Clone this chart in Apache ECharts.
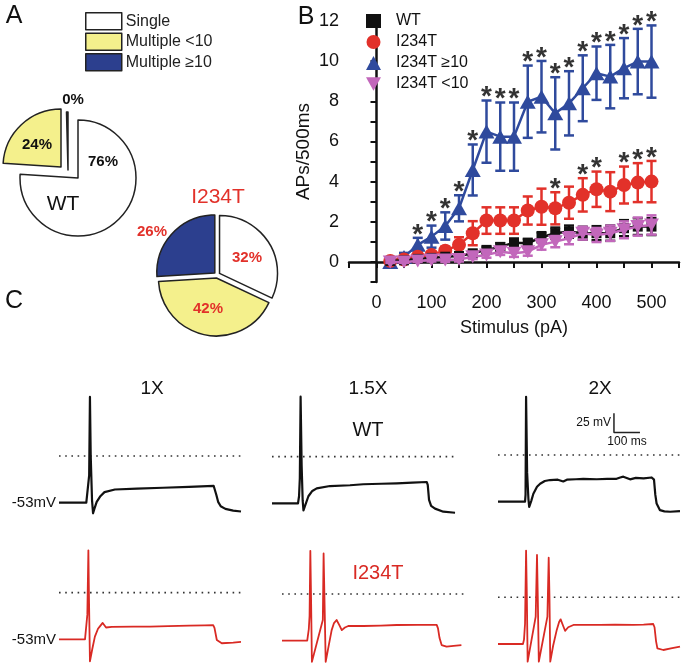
<!DOCTYPE html>
<html><head><meta charset="utf-8">
<script src="https://cdn.jsdelivr.net/npm/echarts@6/dist/echarts.min.js"></script>
<style>html,body{margin:0;padding:0;background:#fff}#c{width:685px;height:667px}</style>
</head><body><div id="c"></div>
<script>
// ---------- Panel A data ----------
const pieCategories = ['Single', 'Multiple <10', 'Multiple \u226510'];
const wtPie = [76, 24, 0];
const mutPie = [32, 42, 26];

// ---------- Panel B data ----------
const stimulus = [25,50,75,100,125,150,175,200,225,250,275,300,325,350,375,400,425,450,475,500];
const wtAPs     = [0.05,0.08,0.15,0.2,0.26,0.3,0.43,0.6,0.75,0.96,0.93,1.23,1.43,1.51,1.43,1.43,1.43,1.68,1.76,1.76];
const wtErr     = [0.05,0.05,0.06,0.08,0.1,0.1,0.12,0.15,0.18,0.2,0.22,0.25,0.28,0.3,0.32,0.35,0.38,0.4,0.42,0.42];
const mutAPs    = [0.05,0.12,0.26,0.35,0.56,0.85,1.43,2.06,2.06,2.06,2.56,2.75,2.67,2.95,3.34,3.62,3.5,3.83,3.95,4.0];
const mutErr    = [0.05,0.08,0.1,0.15,0.2,0.38,0.6,0.66,0.66,0.66,0.7,0.9,0.8,0.8,0.83,0.88,0.97,0.92,0.97,1.03];
const hiAPs     = [0,0.25,0.85,1.26,1.79,2.67,4.58,6.49,6.24,6.24,7.98,8.23,7.4,7.9,8.65,9.4,9.23,9.65,9.98,9.98];
const hiErr     = [0.05,0.2,0.35,0.55,0.68,0.65,1.27,1.55,1.7,1.7,1.8,1.78,1.8,1.6,1.64,1.33,1.58,1.5,1.63,1.8];
const loAPs     = [0,0,0.05,0.1,0.1,0.12,0.26,0.35,0.51,0.43,0.51,0.85,1.01,1.18,1.43,1.34,1.43,1.6,1.76,1.84];
const loErr     = [0.05,0.05,0.06,0.08,0.1,0.1,0.12,0.14,0.16,0.18,0.2,0.24,0.28,0.3,0.32,0.35,0.38,0.42,0.45,0.48];
const hiSig  = [75,100,125,150,175,200,225,250,275,300,325,350,375,400,425,450,475,500];
const mutSig = [325,375,400,450,475,500];
const xTickLabels = [0,100,200,300,400,500];
const yTickLabels = [0,2,4,6,8,10,12];

// ---------- Panel C data (time ms, membrane potential mV) ----------
const wt1x = [[0,-53],[105,-53],[108,-52],[116,-22],[119,67],[122,0],[127,-50],[131,-65],[136,-60],[145,-52],[158,-46],[175,-41],[215,-38],[300,-37],[400,-36],[500,-35],[595,-34],[600,-35],[605,-44],[612,-52],[622,-57],[640,-60],[670,-62],[700,-63]];
const wt15x = [[0,-53],[100,-53],[104,-45],[107,-25],[110,68],[114,-10],[118,-50],[121,-61],[128,-55],[140,-45],[155,-39],[172,-36],[223,-33.4],[300,-32.5],[351,-31.4],[420,-30.8],[480,-30.3],[540,-29.6],[595,-28.8],[599,-32],[604,-49],[612,-56],[627,-59],[659,-62.5],[704,-63.7]];
const wt2x = [[0,-53],[104,-53],[106,-45],[108,66],[112,-20],[117,-50],[120,-59],[128,-52],[136,-44],[150,-36],[162,-32.6],[180,-29.5],[200,-28.4],[230,-28],[251,-30],[265,-28],[300,-27.5],[328,-27],[380,-27.5],[420,-27],[456,-27],[470,-25.5],[482,-24.6],[495,-26],[508,-27.6],[530,-26],[560,-26.5],[591,-25.5],[600,-28],[605,-45],[610,-55],[623,-62.6],[640,-64],[662,-64.4],[700,-63.7]];
const mut1x = [[0,-53],[100,-53],[109,-25],[113,48],[115,0],[119,-78],[128,-64],[138,-50],[150,-41],[158,-38],[168,-34.4],[181,-39.6],[203,-38.9],[286,-38.7],[350,-38.5],[420,-38],[500,-37.5],[560,-37.2],[593,-37],[598,-40],[607,-53.8],[626,-57.5],[670,-56.8],[700,-56]];
const mut15x = [[0,-53],[97,-53],[103,-40],[106,-25],[109,49],[112,-10],[115,-77],[157,-29.5],[160,46],[163,0],[168,-77],[180,-58],[191,-41],[200,-33],[210,-29.5],[220,-35],[230,-41],[242,-38],[255,-36.3],[313,-36.3],[380,-35.8],[441,-35.2],[520,-35],[595,-35],[600,-39],[606,-50],[614,-57.9],[633,-59.8],[660,-58.8],[690,-57.9]];
const mut2x = [[0,-53],[96,-53],[100,-48],[104,-30],[108,53],[111,0],[114,-73],[145,-22],[150,48],[153,0],[157,-73],[190,-22],[195,45],[198,0],[201,-73],[212,-55],[226,-37],[235,-28],[241,-25],[250,-32],[258,-38],[270,-34],[290,-31.4],[392,-31.4],[450,-31],[520,-31.4],[560,-31],[597,-30.3],[602,-34],[608,-50],[613,-57.9],[636,-59.8],[665,-58],[700,-56]];
const zeroLevel = [[0,0],[700,0]];
const scaleBar = [[446,47.5],[446,25.5],[546,25.5]];

// ---------- styling ----------
const FONT = 'Liberation Sans, Arial, sans-serif';
const pieColors = ['#ffffff', '#f4f08c', '#2c3f8e'];
const RED = '#e2312a', BLUE = '#2f4a9d', PURPLE = '#c267bb', BLACK = '#111111';

function sliceSeries(values, idx, center, radius, extra) {
  return Object.assign({
    type: 'pie', radius: radius, center: center, startAngle: 90, clockwise: true,
    silent: true, animation: false, avoidLabelOverlap: false,
    label: {show: false}, labelLine: {show: false},
    data: values.map((v, i) => ({
      name: pieCategories[i], value: v,
      itemStyle: i === idx
        ? {color: pieColors[i], borderColor: '#222', borderWidth: 1.5}
        : {color: 'rgba(0,0,0,0)', borderWidth: 0}
    }))
  }, extra || {});
}
function midDir(values, idx) {
  const sum = values.reduce((a, b) => a + b, 0);
  let acc = 0; for (let i = 0; i < idx; i++) acc += values[i];
  const a = (acc + values[idx] / 2) / sum * 2 * Math.PI;
  return [Math.sin(a), -Math.cos(a)];
}
const wtC = [78, 178], mutC = [217, 275], R = 58;
const wtOffsets = [[0, 0], [-17, -11], [-10, -8]];
const pieSeries = [];
wtPie.forEach((v, i) => pieSeries.push(sliceSeries(wtPie, i,
  [wtC[0] + wtOffsets[i][0], wtC[1] + wtOffsets[i][1]], R, v === 0 ? {minAngle: 1.5} : {})));
mutPie.forEach((v, i) => {
  const d = midDir(mutPie, i);
  pieSeries.push(sliceSeries(mutPie, i, [mutC[0] + 3 * d[0], mutC[1] + 3 * d[1]], R));
});

function errSeries(vals, errs, color, z) {
  return {
    type: 'custom', name: 'err', xAxisIndex: 0, yAxisIndex: 0, z: z, silent: true, animation: false,
    data: stimulus.map((x, i) => [x, vals[i] - errs[i], vals[i] + errs[i]]),
    renderItem: (params, api) => {
      const lo = api.coord([api.value(0), api.value(1)]);
      const hi = api.coord([api.value(0), api.value(2)]);
      const w = 5, style = {stroke: color, lineWidth: 2.5};
      return {type: 'group', children: [
        {type: 'line', shape: {x1: lo[0], y1: lo[1], x2: hi[0], y2: hi[1]}, style: style},
        {type: 'line', shape: {x1: hi[0] - w, y1: hi[1], x2: hi[0] + w, y2: hi[1]}, style: style},
        {type: 'line', shape: {x1: lo[0] - w, y1: lo[1], x2: lo[0] + w, y2: lo[1]}, style: style}
      ]};
    }
  };
}
function lineSeries(name, vals, color, symbol, size, z) {
  return {
    type: 'line', name: name, xAxisIndex: 0, yAxisIndex: 0, z: z, animation: false,
    data: stimulus.map((x, i) => [x, vals[i]]),
    symbol: symbol, symbolSize: size, showSymbol: true,
    itemStyle: {color: color}, lineStyle: {color: color, width: 2.5}
  };
}
function starSeries(sig, vals, errs) {
  return {
    type: 'scatter', xAxisIndex: 0, yAxisIndex: 0, z: 20, silent: true, animation: false,
    symbolSize: 1, itemStyle: {color: 'rgba(0,0,0,0)'},
    data: sig.map(x => { const i = stimulus.indexOf(x); return [x, vals[i] + errs[i]]; }),
    label: {show: true, formatter: '*', position: 'inside', offset: [0, -3],
            fontSize: 28, fontWeight: 'bold', color: '#000', fontFamily: FONT}
  };
}
const INV_TRI = 'path://M0,0 L10,0 L5,9 Z';

// trace grids
const traceLayout = [
  {left: 59, top: 385.5}, {left: 272, top: 386.1}, {left: 498, top: 384.5},
  {left: 59, top: 522.1}, {left: 282, top: 523.5}, {left: 498, top: 526.8}
];
const traces = [wt1x, wt15x, wt2x, mut1x, mut15x, mut2x];
const grids = [{left: 349, top: 21, width: 330, height: 261, outerBoundsMode: 'none'}];
const xAxes = [{
  gridIndex: 0, type: 'value', min: -50, max: 550, interval: 50,
  axisLine: {lineStyle: {color: BLACK, width: 2.5}},
  axisTick: {length: 6, lineStyle: {color: BLACK, width: 2}},
  axisLabel: {customValues: xTickLabels, fontSize: 18, color: BLACK, margin: 12, fontFamily: FONT},
  splitLine: {show: false},
  name: 'Stimulus (pA)', nameLocation: 'middle', nameGap: 37,
  nameTextStyle: {fontSize: 18, color: BLACK, fontFamily: FONT}
}];
const yAxes = [{
  gridIndex: 0, type: 'value', min: -1, max: 12, interval: 1,
  axisLine: {show: true, lineStyle: {color: BLACK, width: 2.5}},
  axisTick: {show: true, length: 6, lineStyle: {color: BLACK, width: 2}},
  axisLabel: {customValues: yTickLabels, fontSize: 18, color: BLACK, margin: 10, fontFamily: FONT},
  splitLine: {show: false},
  name: 'APs/500ms', nameLocation: 'middle', nameGap: 36, nameRotate: 90,
  nameTextStyle: {fontSize: 19, color: BLACK, fontFamily: FONT}
}];
const traceSeries = [];
traceLayout.forEach((g, k) => {
  grids.push({left: g.left, top: g.top, width: 182, height: 141, outerBoundsMode: 'none'});
  xAxes.push({gridIndex: k + 1, type: 'value', min: 0, max: 700, show: false});
  yAxes.push({gridIndex: k + 1, type: 'value', min: -80, max: 80, show: false});
  traceSeries.push({
    type: 'line', xAxisIndex: k + 1, yAxisIndex: k + 1, data: zeroLevel, showSymbol: false,
    silent: true, animation: false, clip: false,
    lineStyle: {color: '#333', width: 1.6, type: [1.6, 4.6]}
  });
  traceSeries.push({
    type: 'line', xAxisIndex: k + 1, yAxisIndex: k + 1, data: traces[k], showSymbol: false,
    silent: true, animation: false, clip: false,
    lineStyle: {color: k < 3 ? BLACK : '#d92a24', width: k < 3 ? 2.2 : 1.8, join: 'round'}
  });
});
traceSeries.push({
  type: 'line', xAxisIndex: 3, yAxisIndex: 3, data: scaleBar, showSymbol: false,
  silent: true, animation: false, clip: false, lineStyle: {color: '#222', width: 1.5}
});

function txt(text, x, y, size, opts) {
  return {type: 'text', z: 100, style: Object.assign({
    text: text, x: x, y: y, fontSize: size, fontFamily: FONT, fill: BLACK,
    align: 'center', verticalAlign: 'middle'}, opts || {})};
}
const graphics = [
  txt('A', 14, 16, 25), txt('B', 306, 17, 25), txt('C', 14, 301, 25),
  txt(wtPie[2] + '%', 73, 100, 15, {fontWeight: 'bold'}),
  txt(wtPie[1] + '%', 37, 145, 15, {fontWeight: 'bold'}),
  txt(wtPie[0] + '%', 103, 162, 15, {fontWeight: 'bold'}),
  txt('WT', 63, 204, 21),
  txt('I234T', 218, 197, 21, {fill: RED}),
  txt(mutPie[2] + '%', 152, 232, 15, {fontWeight: 'bold', fill: RED}),
  txt(mutPie[0] + '%', 247, 258, 15, {fontWeight: 'bold', fill: RED}),
  txt(mutPie[1] + '%', 208, 309, 15, {fontWeight: 'bold', fill: RED}),
  txt('1X', 152, 389, 19), txt('1.5X', 368, 389, 19), txt('2X', 600, 389, 19),
  txt('WT', 368, 430, 20), txt('I234T', 378, 573, 20, {fill: '#d92a24'}),
  txt('-53mV', 56, 503, 15, {align: 'right'}), txt('-53mV', 56, 640, 15, {align: 'right'}),
  txt('25 mV', 611, 423, 12, {align: 'right'}), txt('100 ms', 627, 442, 12)
];

const option = {
  backgroundColor: '#fff',
  animation: false,
  textStyle: {fontFamily: FONT},
  grid: grids, xAxis: xAxes, yAxis: yAxes,
  legend: [
    {
      left: 80, top: 7, orient: 'vertical', itemWidth: 36, itemHeight: 17, itemGap: 2,
      selectedMode: false,
      textStyle: {fontSize: 16, color: '#222', fontFamily: FONT, padding: [0, 0, 0, -1]},
      data: pieCategories.map((n, i) => ({name: n, icon: 'rect',
        itemStyle: {color: pieColors[i], borderColor: '#222', borderWidth: 1.5}}))
    },
    {
      left: 361, top: 8, orient: 'vertical', itemWidth: 15, itemHeight: 14, itemGap: 5,
      selectedMode: false,
      textStyle: {fontSize: 16, color: BLACK, fontFamily: FONT, padding: [0, 0, 0, 10]},
      data: [
        {name: 'WT', icon: 'rect'}, {name: 'I234T', icon: 'circle'},
        {name: 'I234T \u226510', icon: 'triangle'}, {name: 'I234T <10', icon: INV_TRI}
      ]
    }
  ],
  graphic: {elements: graphics},
  series: [].concat(
    pieSeries,
    [
      errSeries(hiAPs, hiErr, BLUE, 2),
      lineSeries('I234T \u226510', hiAPs, BLUE, 'triangle', [16, 14], 3),
      errSeries(mutAPs, mutErr, RED, 4),
      lineSeries('I234T', mutAPs, RED, 'circle', 14, 5),
      errSeries(wtAPs, wtErr, BLACK, 6),
      lineSeries('WT', wtAPs, BLACK, 'rect', 10, 7),
      errSeries(loAPs, loErr, PURPLE, 8),
      lineSeries('I234T <10', loAPs, PURPLE, INV_TRI, [15, 13], 9),
      starSeries(hiSig, hiAPs, hiErr),
      starSeries(mutSig, mutAPs, mutErr)
    ],
    traceSeries
  )
};
const chart = echarts.init(document.getElementById('c'), null, {renderer: 'canvas'});
chart.setOption(option);
</script></body></html>
